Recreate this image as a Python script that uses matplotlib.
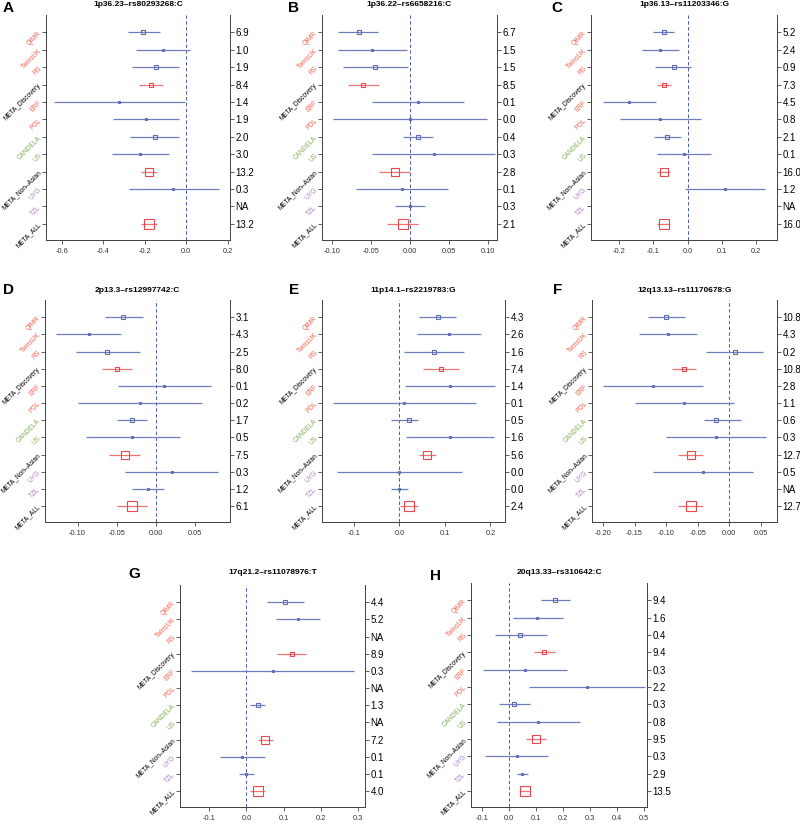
import numpy as np
import matplotlib
matplotlib.use("Agg")
import matplotlib.pyplot as plt

plt.rcParams['font.family'] = ['Liberation Sans', 'DejaVu Sans']
plt.rcParams['axes.unicode_minus'] = False

nan = np.nan

studies = ["QIMR", "TwinsUK", "RS", "META_Discovery", "ERF", "POL", "CANDELA", "US",
           "META_Non\u2013Asian", "UYG", "TZL", "META_ALL"]
# relative square sizes (study weights, px)
weights = [4.5, 2.5, 3.5, 3.5, 2.0, 2.0, 3.5, 2.0, 8.0, 2.0, 2.5, 9.5]

titles = ["1p36.23\u2013rs80293268:C", "1p36.22\u2013rs6658216:C", "1p36.13\u2013rs11203346:G",
          "2p13.3\u2013rs12997742:C", "11p14.1\u2013rs2219783:G", "12q13.13\u2013rs11170678:G",
          "17q21.2\u2013rs11078976:T", "20q13.33\u2013rs310642:C"]
letters = ["A", "B", "C", "D", "E", "F", "G", "H"]

a_est = [-0.209, -0.111, -0.147, -0.171, -0.323, -0.193, -0.152, -0.222, -0.180, -0.062, nan, -0.181]
a_lo = [-0.282, -0.242, -0.263, -0.230, -0.638, -0.351, -0.269, -0.359, -0.220, -0.278, nan, -0.220]
a_hi = [-0.127, 0.020, -0.033, -0.114, -0.008, -0.033, -0.033, -0.083, -0.140, 0.155, nan, -0.140]
a_val = ["6.9", "1.0", "1.9", "8.4", "1.4", "1.9", "2.0", "3.0", "13.2", "0.3", "NA", "13.2"]

b_est = [-0.066, -0.049, -0.045, -0.060, 0.011, 0.000, 0.011, 0.031, -0.019, -0.010, 0.000, -0.009]
b_lo = [-0.092, -0.093, -0.086, -0.080, -0.049, -0.099, -0.009, -0.049, -0.040, -0.069, -0.019, -0.029]
b_hi = [-0.041, -0.004, -0.003, -0.040, 0.070, 0.099, 0.030, 0.110, 0.000, 0.049, 0.020, 0.011]
b_val = ["6.7", "1.5", "1.5", "8.5", "0.1", "0.0", "0.4", "0.3", "2.8", "0.1", "0.3", "2.1"]

c_est = [-0.070, -0.080, -0.041, -0.068, -0.170, -0.080, -0.060, -0.010, -0.070, 0.110, nan, -0.070]
c_lo = [-0.101, -0.134, -0.095, -0.088, -0.246, -0.197, -0.098, -0.088, -0.090, -0.007, nan, -0.090]
c_hi = [-0.039, -0.026, 0.011, -0.049, -0.092, 0.039, -0.020, 0.068, -0.051, 0.227, nan, -0.051]
c_val = ["5.2", "2.4", "0.9", "7.3", "4.5", "0.8", "2.1", "0.1", "16.0", "1.2", "NA", "16.0"]

d_est = [-0.042, -0.085, -0.062, -0.050, 0.010, -0.020, -0.030, -0.030, -0.040, 0.020, -0.010, -0.030]
d_lo = [-0.065, -0.127, -0.102, -0.069, -0.049, -0.099, -0.050, -0.089, -0.060, -0.040, -0.030, -0.050]
d_hi = [-0.017, -0.044, -0.020, -0.030, 0.070, 0.059, -0.011, 0.030, -0.020, 0.079, 0.010, -0.011]
d_val = ["3.1", "4.3", "2.5", "8.0", "0.1", "0.2", "1.7", "0.5", "7.5", "0.3", "1.2", "6.1"]

e_est = [0.084, 0.108, 0.076, 0.091, 0.111, 0.011, 0.021, 0.111, 0.061, 0.000, 0.000, 0.021]
e_lo = [0.044, 0.038, 0.010, 0.051, 0.013, -0.145, -0.018, 0.014, 0.042, -0.138, -0.019, 0.002]
e_hi = [0.124, 0.179, 0.141, 0.131, 0.210, 0.168, 0.040, 0.208, 0.080, 0.138, 0.020, 0.040]
e_val = ["4.3", "2.6", "1.6", "7.4", "1.4", "0.1", "0.5", "1.6", "5.6", "0.0", "0.0", "2.4"]

f_est = [-0.100, -0.097, 0.009, -0.071, -0.121, -0.071, -0.021, -0.021, -0.060, -0.041, nan, -0.060]
f_lo = [-0.128, -0.143, -0.037, -0.091, -0.200, -0.150, -0.040, -0.100, -0.081, -0.120, nan, -0.081]
f_hi = [-0.070, -0.051, 0.053, -0.052, -0.042, 0.007, 0.019, 0.059, -0.041, 0.038, nan, -0.041]
f_val = ["10.8", "4.3", "0.2", "10.8", "2.8", "1.1", "0.6", "0.3", "12.7", "0.5", "NA", "12.7"]

g_est = [0.104, 0.138, nan, 0.121, 0.071, nan, 0.030, nan, 0.050, -0.011, 0.000, 0.030]
g_lo = [0.055, 0.079, nan, 0.081, -0.148, nan, 0.010, nan, 0.030, -0.071, -0.021, 0.011]
g_hi = [0.155, 0.197, nan, 0.159, 0.288, nan, 0.050, nan, 0.071, 0.049, 0.020, 0.050]
g_val = ["4.4", "5.2", "NA", "8.9", "0.3", "NA", "1.3", "NA", "7.2", "0.1", "0.1", "4.0"]

h_est = [0.172, 0.106, 0.042, 0.129, 0.059, 0.290, 0.020, 0.110, 0.099, 0.030, 0.050, 0.059]
h_lo = [0.119, 0.017, -0.052, 0.092, -0.097, 0.076, -0.037, -0.045, 0.063, -0.087, 0.030, 0.040]
h_hi = [0.225, 0.201, 0.141, 0.170, 0.215, 0.504, 0.077, 0.265, 0.137, 0.147, 0.071, 0.079]
h_val = ["9.4", "1.6", "0.4", "9.4", "0.3", "2.2", "0.3", "0.8", "9.5", "0.3", "2.9", "13.5"]

# x ticks per panel
a_ticks = [-0.6, -0.4, -0.2, 0.0, 0.2]
b_ticks = [-0.10, -0.05, 0.00, 0.05, 0.10]
c_ticks = [-0.2, -0.1, 0.0, 0.1, 0.2]
d_ticks = [-0.10, -0.05, 0.00, 0.05]
e_ticks = [-0.1, 0.0, 0.1, 0.2]
f_ticks = [-0.20, -0.15, -0.10, -0.05, 0.00, 0.05]
g_ticks = [-0.1, 0.0, 0.1, 0.2, 0.3]
h_ticks = [-0.1, 0.0, 0.1, 0.2, 0.3, 0.4, 0.5]

W, H = 800, 824
fig = plt.figure(figsize=(W / 100, H / 100), dpi=100)

RED_LAB = "#F0604F"
GREEN_LAB = "#86AD5A"
PURPLE_LAB = "#A77DC2"
lab_colors = [RED_LAB, RED_LAB, RED_LAB, "black", RED_LAB, RED_LAB, GREEN_LAB, GREEN_LAB,
              "black", PURPLE_LAB, PURPLE_LAB, "black"]
meta_rows = {3, 8, 11}
BLUE = "#5E6DB5"
RED = "#E8474F"

# (left, right, top, bottom) in px, xlim, letter pos, title y
panels = [
    (a_est, a_lo, a_hi, a_val, a_ticks, 1, (46, 230, 15, 240), (-0.675, 0.21), (3, 8), 5),
    (b_est, b_lo, b_hi, b_val, b_ticks, 2, (322, 497, 15, 240), (-0.113, 0.112), (288, 8), 5),
    (c_est, c_lo, c_hi, c_val, c_ticks, 1, (591, 777, 15, 240), (-0.282, 0.261), (551, 8), 5),
    (d_est, d_lo, d_hi, d_val, d_ticks, 2, (45, 230, 300, 522), (-0.1415, 0.0943), (3, 290), 290),
    (e_est, e_lo, e_hi, e_val, e_ticks, 1, (322, 505, 300, 522), (-0.170, 0.232), (289, 290), 290),
    (f_est, f_lo, f_hi, f_val, f_ticks, 2, (592, 777, 300, 522), (-0.2175, 0.076), (553, 290), 290),
    (g_est, g_lo, g_hi, g_val, g_ticks, 1, (180, 365, 585, 807), (-0.178, 0.318), (128, 574), 573),
    (h_est, h_lo, h_hi, h_val, h_ticks, 1, (471, 647, 583, 807), (-0.140, 0.512), (430, 576), 573),
]

rows = np.arange(1, 13)
for i, (est, lo, hi, vals, ticks, dec, box, xl, lpos, ty) in enumerate(panels):
    l, r, t, b = box
    ax = fig.add_axes([l / W, 1 - b / H, (r - l) / W, (b - t) / H])
    ax.set_xlim(*xl)
    ax.set_ylim(12.93, 0.0)
    ax.axvline(0, color="#4A5AB0", lw=0.7, ls=(0, (3.5, 2.5)), zorder=1)
    for k in range(12):
        if np.isnan(est[k]):
            continue
        col = RED if k in meta_rows else BLUE
        lcol = "#EE7373" if k in meta_rows else "#6F7DBD"
        ax.hlines(rows[k], lo[k], hi[k], color=lcol, lw=0.9, zorder=2)
        ax.plot(est[k], rows[k], marker="s", ms=weights[k] / 1.389, mfc="none",
                mec=col, mew=0.8, zorder=3)
    ax.set_yticks(rows)
    ax.set_yticklabels(studies, fontsize=4.7)
    for tl, c in zip(ax.get_yticklabels(), lab_colors):
        tl.set_rotation(45)
        tl.set_rotation_mode("anchor")
        tl.set_ha("right")
        tl.set_va("center")
        tl.set_color(c)
    ax.set_xticks(ticks)
    ax.set_xticklabels([f"{v:.{dec}f}" for v in ticks], fontsize=5.3, color="#333333")
    ax.tick_params(axis="y", length=3, width=0.6, pad=1, color="#444444")
    ax.tick_params(axis="x", length=3, width=0.6, pad=3, color="#444444")
    ax.spines["top"].set_visible(False)
    for s in ["left", "bottom", "right"]:
        ax.spines[s].set_color("#444444")
        ax.spines[s].set_linewidth(0.7)

    ax2 = ax.twinx()
    ax2.set_ylim(12.93, 0.0)
    ax2.set_yticks(rows)
    ax2.set_yticklabels(vals, fontsize=7)
    ax2.tick_params(axis="y", length=3, width=0.6, pad=1, color="#444444")
    ax2.spines["top"].set_visible(False)
    for s in ["left", "bottom", "right"]:
        ax2.spines[s].set_color("#444444")
        ax2.spines[s].set_linewidth(0.7)

    fig.text((l + r) / 2 / W, 1 - ty / H, titles[i], ha="center", va="center",
             fontsize=6, fontweight="bold")
    fig.text(lpos[0] / W, 1 - lpos[1] / H, letters[i], ha="left", va="center",
             fontsize=11, fontweight="bold")

fig.savefig("out.png", dpi=100)
